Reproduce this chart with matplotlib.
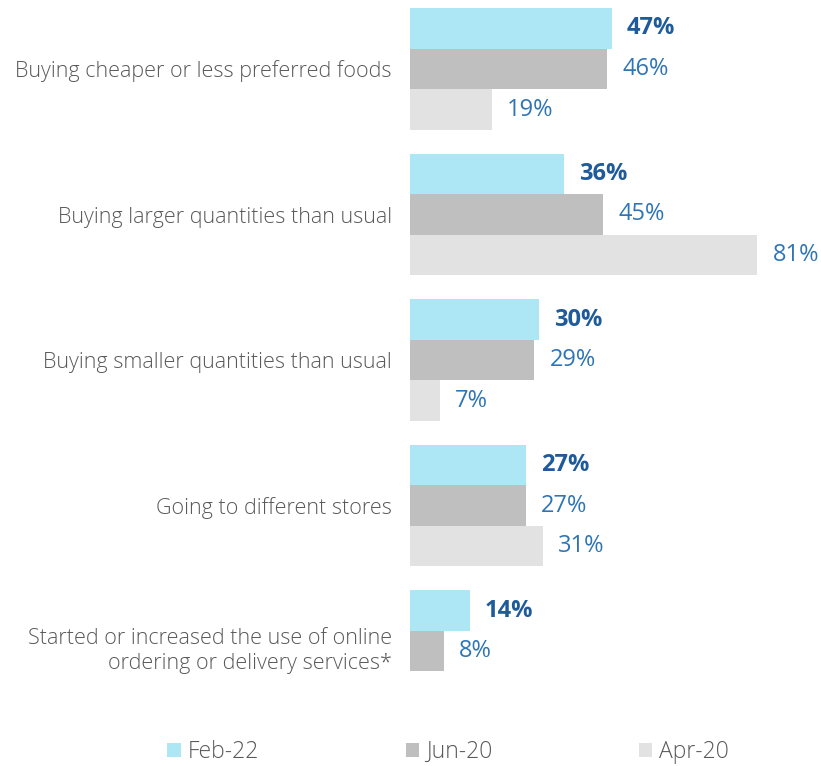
import matplotlib
matplotlib.use("Agg")
import matplotlib.pyplot as plt
from matplotlib.patches import Patch
import numpy as np

categories = [
    "Buying cheaper or less preferred foods",
    "Buying larger quantities than usual",
    "Buying smaller quantities than usual",
    "Going to different stores",
    "Started or increased the use of online\nordering or delivery services*",
]
series_names = ["Feb-22", "Jun-20", "Apr-20"]
feb22 = [47, 36, 30, 27, 14]
jun20 = [46, 45, 29, 27, 8]
apr20 = [19, 81, 7, 31, None]

colors = ["#ADE6F5", "#BFBFBF", "#E2E2E2"]
text_gray = "#595959"
blue = "#2E75B6"
blue_bold = "#1F5B9A"

plt.rcParams['font.family'] = ['Open Sans', 'DejaVu Sans']

W, H = 821, 766
fig = plt.figure(figsize=(W / 100, H / 100), dpi=100)

px_per_unit = 40.5
spacing = 145.5 / px_per_unit
ax_left, ax_right = 410, 810
ax_top, ax_bot = 0, 700
ax = fig.add_axes([ax_left / W, 1 - ax_bot / H, (ax_right - ax_left) / W, (ax_bot - ax_top) / H])

px_per_pct = 4.29
ax.set_xlim(0, (ax_right - ax_left) / px_per_pct)
y_top = -69 / px_per_unit
ax.set_ylim(y_top + (ax_bot - ax_top) / px_per_unit, y_top)

centers = np.arange(len(categories)) * spacing
series = [feb22, jun20, apr20]
offsets = [-1, 0, 1]
gap_px = 15
for s, (vals, off, col) in enumerate(zip(series, offsets, colors)):
    for i, v in enumerate(vals):
        if v is None:
            continue
        y = centers[i] + off
        ax.barh(y, v, height=1.0, color=col, edgecolor='none')
        ax.text(v + gap_px / px_per_pct, y, f"{v}%", va='center', ha='left',
                fontsize=17, color=blue_bold if s == 0 else blue,
                fontweight='bold' if s == 0 else 'normal')

ax.set_yticks(centers)
ax.set_yticklabels(categories, fontsize=15.5, color=text_gray, linespacing=1.3,
                   fontweight=300)
ax.get_yticklabels()[-1].set_va('center')
ax.tick_params(axis='y', length=0, pad=13)
ax.set_xticks([])
for sp in ax.spines.values():
    sp.set_visible(False)

handles = [Patch(facecolor=c, edgecolor='none') for c in colors]
leg = fig.legend(handles, series_names, loc='center', bbox_to_anchor=(448 / W, 1 - 752 / H),
                 ncol=3, frameon=False, labelcolor=text_gray,
                 handlelength=0.6, handleheight=0.6, handletextpad=0.28, columnspacing=6.4,
                 prop={'size': 16.5, 'weight': 300})

fig.savefig("out.png", dpi=100)
